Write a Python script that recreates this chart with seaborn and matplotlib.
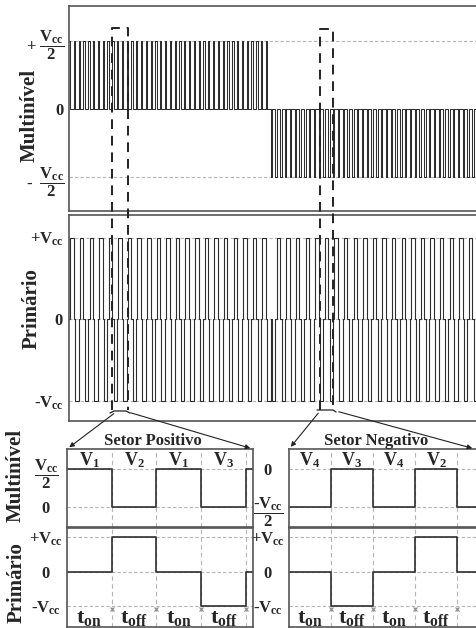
import numpy as np
import pandas as pd
import matplotlib
matplotlib.use("Agg")
import matplotlib.pyplot as plt
import seaborn as sns
from matplotlib.patches import FancyArrowPatch
from matplotlib.lines import Line2D

# ---------------- data ----------------
interval_labels = [r"$t_{on}$", r"$t_{off}$", r"$t_{on}$", r"$t_{off}$"]
pos_vectors = [r"$V_1$", r"$V_2$", r"$V_1$", r"$V_3$"]
neg_vectors = [r"$V_4$", r"$V_3$", r"$V_4$", r"$V_2$"]
multi_pos = [0.5, 0.0, 0.5, 0.0]      # multilevel voltage (x Vcc), positive sector
multi_neg = [-0.5, 0.0, -0.5, 0.0]    # multilevel voltage, negative sector
prim_pos = [0, 1, 0, -1]              # primary voltage (x Vcc), positive sector
prim_neg = [0, -1, 0, 1]              # primary voltage, negative sector
zoom_durations = [1.0, 1.0, 1.0, 1.0]     # t_on, t_off, t_on, t_off (detail)
top_durations = [1.3, 3.5, 1.3, 3.5]      # t_on, t_off, t_on, t_off (overview)
periods_pos = 21
periods_neg = 23

top_ticks_multi = [0.5, 0.0, -0.5]
top_ticklabels_multi = [r"+ $\dfrac{V_{cc}}{2}$", r"$0$", r"-  $\dfrac{V_{cc}}{2}$"]
prim_ticks = [1, 0, -1]
prim_ticklabels = [r"+$V_{cc}$", r"$0$", r"-$V_{cc}$"]
left_multi_ticks = [0.5, 0.0]
left_multi_ticklabels = [r"$\dfrac{V_{cc}}{2}$", r"$0$"]
right_multi_ticks = [0.0, -0.5]
right_multi_ticklabels = [r"$0$", r"$\dfrac{\text{-}V_{cc}}{2}$"]

# ---------------- style ----------------
sns.set_theme(style="white")
plt.rcParams["font.family"] = ["Liberation Serif", "DejaVu Serif"]
plt.rcParams["font.weight"] = "bold"
plt.rcParams["mathtext.fontset"] = "custom"
plt.rcParams["mathtext.rm"] = "Liberation Serif:bold"
plt.rcParams["mathtext.it"] = "Liberation Serif:bold"
plt.rcParams["mathtext.bf"] = "Liberation Serif:bold"
plt.rcParams["mathtext.default"] = "rm"

W, H = 476, 628
fig = plt.figure(figsize=(W / 100, H / 100), dpi=100)


def ax_px(x0, y0, x1, y1):
    return fig.add_axes([x0 / W, 1 - y1 / H, (x1 - x0) / W, (y1 - y0) / H])


def fpx(x, y):
    return (x / W, 1 - y / H)


WAVE = "#2e2e2e"
GRID = "#b5b5b5"
SPINE = "#555555"


def build(seq, durations, reps, t0=0.0):
    t, v = [], []
    cur = t0
    for _ in range(reps):
        for lev, d in zip(seq, durations):
            t.append(cur)
            v.append(lev)
            cur += d
    return t, v, cur


def style_ax(ax):
    for s in ax.spines.values():
        s.set_color(SPINE)
        s.set_linewidth(1.2)
    ax.set_xticks([])
    ax.tick_params(axis="y", length=0)
    ax.set_xlabel("")
    ax.set_ylabel("")


def hgrid(ax, levels):
    for lv in levels:
        ax.axhline(lv, color=GRID, lw=0.8, ls=(0, (3, 2)), zorder=0)


# ---------------- overview panels ----------------
ax1 = ax_px(69, 6, 481, 211)
ax2 = ax_px(69, 215, 481, 421)
width_top = 481 - 69

t1, v1, c = build(multi_pos, top_durations, periods_pos)
t2, v2, c2 = build(multi_neg, top_durations, periods_neg, c)
df_top_m = pd.DataFrame({"t": t1 + t2 + [c2], "v": v1 + v2 + [v2[-1]]})
t1, v1, c = build(prim_pos, top_durations, periods_pos)
t2, v2, c2 = build(prim_neg, top_durations, periods_neg, c)
df_top_p = pd.DataFrame({"t": t1 + t2 + [c2], "v": v1 + v2 + [v2[-1]]})

hgrid(ax1, [0.5, -0.5])
sns.lineplot(data=df_top_m, x="t", y="v", ax=ax1, drawstyle="steps-post",
             estimator=None, sort=False, color=WAVE, lw=0.75)
ax1.set_xlim(0, width_top)
ax1.set_ylim(-0.745, 0.752)
style_ax(ax1)
ax1.set_yticks(top_ticks_multi)
ax1.set_yticklabels(top_ticklabels_multi, fontsize=12)
ax1.tick_params(axis="y", pad=3)
ax1.set_ylabel("Multinível", fontsize=15, fontweight="bold")
ax1.yaxis.set_label_coords(-0.072, 0.465)

hgrid(ax2, [1, 0, -1])
sns.lineplot(data=df_top_p, x="t", y="v", ax=ax2, drawstyle="steps-post",
             estimator=None, sort=False, color=WAVE, lw=0.8)
ax2.set_xlim(0, width_top)
ax2.set_ylim(-1.25, 1.276)
style_ax(ax2)
ax2.set_yticks(prim_ticks)
ax2.set_yticklabels(prim_ticklabels, fontsize=12)
ax2.tick_params(axis="y", pad=4)
ax2.set_ylabel("Primário", fontsize=15, fontweight="bold")
ax2.yaxis.set_label_coords(-0.066, 0.544)

# ---------------- detail panels ----------------
axLm = ax_px(67, 449, 253, 527)
axLp = ax_px(67, 528, 253, 627)
axRm = ax_px(289, 449, 481, 527)
axRp = ax_px(289, 528, 481, 627)

bounds = np.cumsum(zoom_durations)
centers = bounds - np.array(zoom_durations) / 2


def detail(axm, axp, mseq, pseq, xmax, vec_labels, vec_y, mylim, mticks, mlabels):
    tm, vm, cm = build(mseq, zoom_durations, 1)
    dfm = pd.DataFrame({"t": tm + [cm, xmax], "v": vm + [mseq[0], mseq[0]]})
    tp, vp, cp = build(pseq, zoom_durations, 1)
    dfp = pd.DataFrame({"t": tp + [cp, xmax], "v": vp + [pseq[0], pseq[0]]})

    for ax in (axm, axp):
        for b in bounds:
            ax.axvline(b, color=GRID, lw=0.8, ls=(0, (4, 3)), zorder=0)
    hgrid(axm, [0.5, 0.0, -0.5])
    hgrid(axp, [1, 0, -1])

    sns.lineplot(data=dfm, x="t", y="v", ax=axm, drawstyle="steps-post",
                 estimator=None, sort=False, color=WAVE, lw=1.2)
    sns.lineplot(data=dfp, x="t", y="v", ax=axp, drawstyle="steps-post",
                 estimator=None, sort=False, color=WAVE, lw=1.2)
    axp.plot(bounds, [-1.08] * len(bounds), ls="none", marker="x", ms=3,
             mew=0.8, color="#888888")

    for ax in (axm, axp):
        ax.set_xlim(0, xmax)
        style_ax(ax)
    axm.set_ylim(*mylim)
    axp.set_ylim(-1.62, 1.275)

    axm.set_yticks(mticks)
    axm.set_yticklabels(mlabels, fontsize=12, ha="center")
    axm.tick_params(axis="y", pad=15)
    axp.set_yticks(prim_ticks)
    axp.set_yticklabels(prim_ticklabels, fontsize=12, ha="center")
    axp.tick_params(axis="y", pad=15)

    for cx, lab in zip(centers, vec_labels):
        axm.text(cx, vec_y, lab, ha="center", va="center", fontsize=13)
    for cx, lab in zip(centers, interval_labels):
        axp.text(cx, -1.36, lab, ha="center", va="center", fontsize=16)


detail(axLm, axLp, multi_pos, prim_pos, 4.16, pos_vectors, 0.62,
       (-0.263, 0.763), left_multi_ticks, left_multi_ticklabels)
detail(axRm, axRp, multi_neg, prim_neg, 4.57, neg_vectors, 0.12,
       (-0.763, 0.263), right_multi_ticks, right_multi_ticklabels)

axLm.set_ylabel("Multinível", fontsize=15, fontweight="bold")
axLm.yaxis.set_label_coords(-0.225, 0.66)
axLp.set_ylabel("Primário", fontsize=15, fontweight="bold")
axLp.yaxis.set_label_coords(-0.215, 0.45)

fig.text(*fpx(153, 441), "Setor Positivo", ha="center", va="center", fontsize=12)
fig.text(*fpx(376, 441), "Setor Negativo", ha="center", va="center", fontsize=12)

# ---------------- zoom markers ----------------
def fline(pts, **kw):
    xs = [p[0] / W for p in pts]
    ys = [1 - p[1] / H for p in pts]
    fig.add_artist(Line2D(xs, ys, transform=fig.transFigure, **kw))


dash = dict(color="#222222", lw=1.4, ls=(0, (5, 3.5)))
fline([(112, 410), (112, 28), (128, 28), (128, 410)], **dash)
fline([(320, 410), (320, 29), (333, 29), (333, 410)], **dash)

solid = dict(color="#222222", lw=0.9)
fline([(110, 413), (114, 411), (126, 411), (130, 413)], **solid)
fline([(317, 410), (333, 410), (336, 412)], **solid)


def farrow(p0, p1):
    fig.add_artist(FancyArrowPatch(fpx(*p0), fpx(*p1), transform=fig.transFigure,
                                   arrowstyle="-|>", mutation_scale=7,
                                   color="#222222", lw=0.8))


farrow((116, 412), (67, 449))
farrow((128, 412), (253, 449))
farrow((320, 411), (289, 449))
farrow((336, 411), (475, 449))

fig.savefig("out.png", dpi=100)
